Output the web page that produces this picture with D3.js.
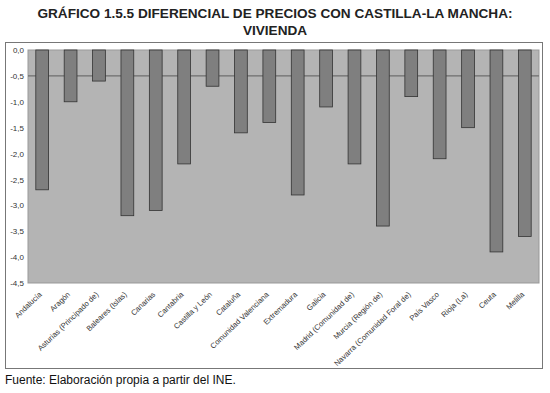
<!DOCTYPE html>
<html><head><meta charset="utf-8">
<script src="https://cdn.jsdelivr.net/npm/d3@7"></script>
<style>body{margin:0;background:#fff;font-family:"Liberation Sans",Arial,sans-serif;}</style>
</head><body><svg id="c" width="550" height="393"></svg>
<script>
const categories = ["Andalucía","Aragón","Asturias (Principado de)","Baleares (Islas)","Canarias","Cantabria","Castilla y León","Cataluña","Comunidad Valenciana","Extremadura","Galicia","Madrid (Comunidad de)","Murcia (Región de)","Navarra (Comunidad Foral de)","País Vasco","Rioja (La)","Ceuta","Melilla"];
const values = [-2.7,-1.0,-0.6,-3.2,-3.1,-2.2,-0.7,-1.6,-1.4,-2.8,-1.1,-2.2,-3.4,-0.9,-2.1,-1.5,-3.9,-3.6];
const yTicks = [0,-0.5,-1,-1.5,-2,-2.5,-3,-3.5,-4,-4.5];
const refValue = -0.5;
const titleLines = ["GRÁFICO 1.5.5 DIFERENCIAL DE PRECIOS CON CASTILLA-LA MANCHA:","VIVIENDA"];
const source = "Fuente: Elaboración propia a partir del INE.";

const svg = d3.select("#c");
const L=28,R=539,T=50,B=283;
svg.append("rect").attr("x",5.5).attr("y",42.5).attr("width",537).attr("height",326).attr("fill","#fff").attr("stroke","#777").attr("stroke-width",1);
svg.selectAll("text.t").data(titleLines).enter().append("text")
 .attr("x",275).attr("y",(d,i)=>18+i*17).attr("text-anchor","middle")
 .attr("font-weight","bold").attr("font-size",13.6).attr("fill","#222").text(d=>d);

const x=d3.scaleBand().domain(categories).range([L,R]).paddingInner(0.55).paddingOuter(0.275);
const y=d3.scaleLinear().domain([0,-4.5]).range([T,B]);

svg.append("rect").attr("x",L).attr("y",T).attr("width",R-L).attr("height",B-T).attr("fill","#b4b4b4").attr("stroke","#999");

svg.append("line").attr("x1",L).attr("x2",R).attr("y1",y(refValue)).attr("y2",y(refValue)).attr("stroke","#6e6e6e").attr("stroke-width",1.2);

svg.selectAll("rect.bar").data(values).enter().append("rect")
 .attr("x",(d,i)=>x(categories[i])).attr("width",x.bandwidth())
 .attr("y",y(0)).attr("height",d=>y(d)-y(0))
 .attr("fill","#7f7f7f").attr("stroke","#333").attr("stroke-width",0.8);

const ya=d3.axisLeft(y).tickValues(yTicks).tickSize(0).tickPadding(4)
 .tickFormat(d=>d3.format(".1f")(d).replace(".",",").replace("−","-"));
const g=svg.append("g").attr("transform",`translate(${L},0)`).call(ya);
g.select(".domain").remove();
g.selectAll("text").attr("font-size",8).attr("fill","#333").attr("font-family","Liberation Sans, Arial, sans-serif");

svg.selectAll("text.cat").data(categories).enter().append("text")
 .attr("transform",d=>`translate(${x(d)+x.bandwidth()/2},${B+12}) rotate(-44)`)
 .attr("text-anchor","end").attr("font-size",7.6).attr("fill","#333").text(d=>d);

svg.append("text").attr("x",5).attr("y",384).attr("font-size",12).attr("fill","#111").text(source);
</script></body></html>
